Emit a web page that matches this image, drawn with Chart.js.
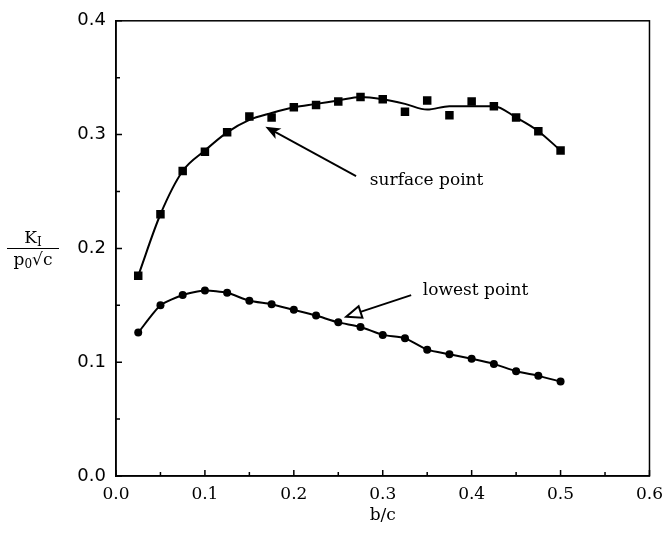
<!DOCTYPE html>
<html><head><meta charset="utf-8">
<script src="https://cdn.jsdelivr.net/npm/chart.js@4"></script>
<style>
html,body{margin:0;padding:0;background:#fff;}
#wrap{position:relative;width:671px;height:535px;}
canvas{display:block;}
#ylab{position:absolute;left:7px;top:227px;width:52px;text-align:center;font:17px "DejaVu Serif";color:#000;}
#ylab .num{border-bottom:1.6px solid #000;line-height:21px;height:21px;}
#ylab .den{line-height:21px;}
#ylab sub{font-size:12px;vertical-align:-3px;line-height:0;}
#ylab .rad{text-decoration:overline;}
</style></head><body>
<div id="wrap">
<canvas id="c" width="671" height="535"></canvas>
<div id="ylab"><div class="num">K<sub>I</sub></div><div class="den">p<sub>0</sub>√<span class="rad">c</span></div></div>
</div>
<script>
// ---- data ----
const bc = [0.025,0.05,0.075,0.1,0.125,0.15,0.175,0.2,0.225,0.25,0.275,0.3,0.325,0.35,0.375,0.4,0.425,0.45,0.475,0.5];
const surfacePoints = [0.176,0.230,0.268,0.285,0.302,0.316,0.315,0.324,0.326,0.329,0.333,0.331,0.320,0.330,0.317,0.329,0.325,0.315,0.303,0.286];
const surfaceFit    = [0.176,0.230,0.268,0.286,0.302,0.313,0.319,0.324,0.327,0.330,0.333,0.331,0.327,0.322,0.325,0.325,0.325,0.315,0.303,0.286];
const lowestPoints  = [0.126,0.150,0.159,0.163,0.161,0.154,0.151,0.146,0.141,0.135,0.131,0.124,0.121,0.111,0.107,0.103,0.0985,0.092,0.088,0.083];
const xTicks = [0,0.1,0.2,0.3,0.4,0.5,0.6];
const xTickLabels = ['0.0','0.1','0.2','0.3','0.4','0.5','0.6'];
const xMinorTicks = [0.05,0.15,0.25,0.35,0.45,0.55];
const yTicks = [0,0.1,0.2,0.3,0.4];
const yTickLabels = ['0.0','0.1','0.2','0.3','0.4'];
const yMinorTicks = [0.05,0.15,0.25,0.35];
const xTitle = 'b/c';
const annotations = [
  {text:'surface point', tx:0.2855, ty:0.2595, from:[0.270,0.2635], to:[0.168,0.307], head:'filled'},
  {text:'lowest point',  tx:0.345,  ty:0.1625, from:[0.332,0.159],  to:[0.259,0.140], head:'open'}
];

const pts = (ys) => bc.map((x,i)=>({x:x,y:ys[i]}));

const framePlugin = {
  id:'frame',
  afterDraw(chart){
    const {ctx, chartArea:a, scales:{x,y}} = chart;
    ctx.save();
    ctx.strokeStyle='#000';
    ctx.lineWidth=1.5;
    ctx.strokeRect(a.left, a.top, a.right-a.left, a.bottom-a.top);
    ctx.lineWidth=1.5;
    ctx.beginPath();
    xTicks.forEach(v=>{const p=x.getPixelForValue(v); ctx.moveTo(p,a.bottom); ctx.lineTo(p,a.bottom-6);});
    xMinorTicks.forEach(v=>{const p=x.getPixelForValue(v); ctx.moveTo(p,a.bottom); ctx.lineTo(p,a.bottom-4);});
    yTicks.forEach(v=>{const p=y.getPixelForValue(v); ctx.moveTo(a.left,p); ctx.lineTo(a.left+6,p);});
    yMinorTicks.forEach(v=>{const p=y.getPixelForValue(v); ctx.moveTo(a.left,p); ctx.lineTo(a.left+4,p);});
    ctx.stroke();
    ctx.restore();
  },
  afterDatasetsDraw(chart){
    const {ctx, scales:{x,y}} = chart;
    ctx.save();
    ctx.fillStyle='#000'; ctx.strokeStyle='#000';
    ctx.font='17px "DejaVu Serif"';
    ctx.textBaseline='middle'; ctx.textAlign='left';
    annotations.forEach(an=>{
      ctx.fillText(an.text, x.getPixelForValue(an.tx), y.getPixelForValue(an.ty));
      const x1=x.getPixelForValue(an.from[0]), y1=y.getPixelForValue(an.from[1]);
      const x2=x.getPixelForValue(an.to[0]), y2=y.getPixelForValue(an.to[1]);
      const ang=Math.atan2(y2-y1,x2-x1);
      const L=15, W=6;
      const bx=x2-L*Math.cos(ang), by=y2-L*Math.sin(ang);
      const lx=bx+W*Math.sin(ang), ly=by-W*Math.cos(ang);
      const rx=bx-W*Math.sin(ang), ry=by+W*Math.cos(ang);
      ctx.lineWidth=1.8;
      ctx.beginPath();
      if(an.head==='filled'){
        ctx.moveTo(x1,y1); ctx.lineTo(bx+4*Math.cos(ang),by+4*Math.sin(ang)); ctx.stroke();
        ctx.beginPath();
        ctx.moveTo(x2,y2); ctx.lineTo(lx,ly);
        ctx.lineTo(bx+4*Math.cos(ang),by+4*Math.sin(ang));
        ctx.lineTo(rx,ry); ctx.closePath(); ctx.fill();
      } else {
        ctx.moveTo(x1,y1); ctx.lineTo(bx,by); ctx.stroke();
        ctx.beginPath();
        ctx.moveTo(x2,y2); ctx.lineTo(lx,ly); ctx.lineTo(rx,ry); ctx.closePath();
        ctx.lineWidth=2; ctx.stroke();
      }
    });
    ctx.restore();
  }
};

new Chart(document.getElementById('c'), {
  type:'scatter',
  data:{datasets:[
    {label:'surface fit', data:pts(surfaceFit), showLine:true, borderColor:'#000', borderWidth:2,
     pointRadius:0, cubicInterpolationMode:'monotone', fill:false, order:2},
    {label:'surface point', data:pts(surfacePoints), showLine:false, pointStyle:'rect', pointRadius:6,
     backgroundColor:'#000', borderColor:'#000', borderWidth:0, order:1},
    {label:'lowest point', data:pts(lowestPoints), showLine:true, borderColor:'#000', borderWidth:2,
     tension:0.2, pointStyle:'circle', pointRadius:4, backgroundColor:'#000', pointBorderWidth:0, order:1}
  ]},
  options:{
    responsive:false, animation:false, devicePixelRatio:1,
    layout:{padding:{left:0,right:18,top:16,bottom:0}},
    plugins:{legend:{display:false}, tooltip:{enabled:false}},
    scales:{
      x:{type:'linear', min:0, max:0.6,
        afterBuildTicks:(s)=>{s.ticks = xTicks.map(v=>({value:v}));},
        afterFit:(s)=>{s.height=59;},
        grid:{display:false, drawTicks:false},
        border:{display:true, color:'#000', width:1.5},
        ticks:{color:'#000', font:{family:'DejaVu Serif', size:17}, padding:8, maxRotation:0,
          callback:(v,i)=>xTickLabels[i]},
        title:{display:true, text:xTitle, color:'#000', font:{family:'DejaVu Serif', size:17}, padding:{top:2,bottom:9}}
      },
      y:{type:'linear', min:0, max:0.4,
        afterBuildTicks:(s)=>{s.ticks = yTicks.map(v=>({value:v}));},
        afterFit:(s)=>{s.width=116;},
        grid:{display:false, drawTicks:false},
        border:{display:true, color:'#000', width:1.5},
        ticks:{color:'#000', font:{family:'DejaVu Sans', size:18}, padding:10,
          callback:(v,i)=>yTickLabels[i]}
      }
    }
  },
  plugins:[framePlugin]
});
</script>
</body></html>
